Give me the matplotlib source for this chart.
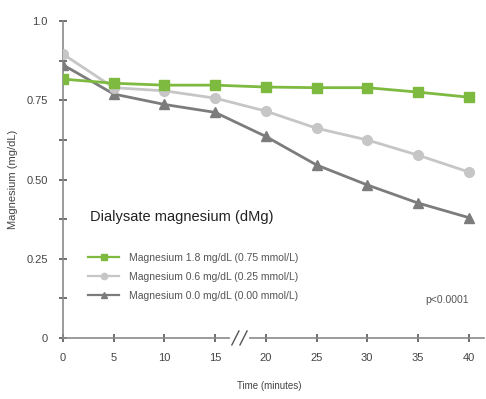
import matplotlib
matplotlib.use("Agg")
import matplotlib.pyplot as plt

plt.rcParams['font.family'] = ['Liberation Sans', 'DejaVu Sans']

time_min = [0, 5, 10, 15, 20, 25, 30, 35, 40]
mg_high = [0.817, 0.804, 0.798, 0.798, 0.792, 0.790, 0.790, 0.776, 0.760]
mg_mid = [0.896, 0.790, 0.780, 0.757, 0.716, 0.662, 0.625, 0.577, 0.524]
mg_zero = [0.862, 0.770, 0.737, 0.712, 0.636, 0.546, 0.483, 0.426, 0.380]

labels = [
    "Magnesium 1.8 mg/dL (0.75 mmol/L)",
    "Magnesium 0.6 mg/dL (0.25 mmol/L)",
    "Magnesium 0.0 mg/dL (0.00 mmol/L)",
]
y_ticks = [0, 0.25, 0.50, 0.75, 1.0]
y_tick_labels = ["0", "0.25", "0.50", "0.75", "1.0"]

fig = plt.figure(figsize=(4.86, 3.99), dpi=100)
ax = fig.add_axes([0.1296, 0.153, 0.866, 0.794])

axis_col = "#8a8a8a"
green = "#7dba3f"
light = "#c6c6c6"
dark = "#7c7c7c"

ax.plot(time_min, mg_high, color=green, marker="s", ms=7, lw=2, label=labels[0], zorder=5)
ax.plot(time_min, mg_mid, color=light, marker="o", ms=7, lw=2, label=labels[1], zorder=4)
ax.plot(time_min, mg_zero, color=dark, marker="^", ms=7, lw=2, label=labels[2], zorder=3)

ax.set_xlim(0, 41.5)
ax.set_ylim(0, 1.0)
ax.set_xticks(time_min)
ax.set_xticklabels([str(t) for t in time_min], fontsize=8, color="#444444")
ax.set_yticks(y_ticks)
ax.set_yticklabels(y_tick_labels, fontsize=8, color="#444444")
ax.set_yticks([0.125, 0.375, 0.625, 0.875], minor=True)

for s in ["top", "right"]:
    ax.spines[s].set_visible(False)
for s in ["left", "bottom"]:
    ax.spines[s].set_color(axis_col)
    ax.spines[s].set_linewidth(1.2)
ax.spines["left"].set_bounds(0, 1.0)
ax.tick_params(axis="both", which="both", direction="inout", length=6, width=1.2, color="#555555", pad=8)

# axis break marks on the time axis
bx = 17.4
ax.plot([bx - 0.7, bx + 0.7], [0.0, 0.0], color="white", lw=3, clip_on=False, zorder=6)
for dx in (-0.4, 0.4):
    ax.plot([bx + dx - 0.35, bx + dx + 0.35], [-0.022, 0.022], color="#555555", lw=1.0,
            clip_on=False, zorder=7)

ax.set_ylabel("Magnesium (mg/dL)", fontsize=8, color="#444444", labelpad=6)
ax.set_xlabel("Time (minutes)", fontsize=7, color="#444444", labelpad=14)
ax.xaxis.set_label_coords(0.49, -0.135)

fig.text(90 / 486, 1 - 217 / 399, "Dialysate magnesium (dMg)", fontsize=10.5,
         color="#222222", ha="left", va="center")

leg = ax.legend(loc="upper left", bbox_to_anchor=(88 / 486, 1 - 253 / 399),
                bbox_transform=fig.transFigure, frameon=False, fontsize=7.5,
                handlelength=3.0, handletextpad=0.9, labelspacing=0.85,
                borderpad=0, borderaxespad=0, markerscale=0.65)
for t in leg.get_texts():
    t.set_color("#555555")
for h in leg.legend_handles:
    h.set_linewidth(1.6)

ax.text(40, 0.12, "p<0.0001", fontsize=7.5, color="#555555", ha="right", va="center")

fig.savefig("out.png", dpi=100)
